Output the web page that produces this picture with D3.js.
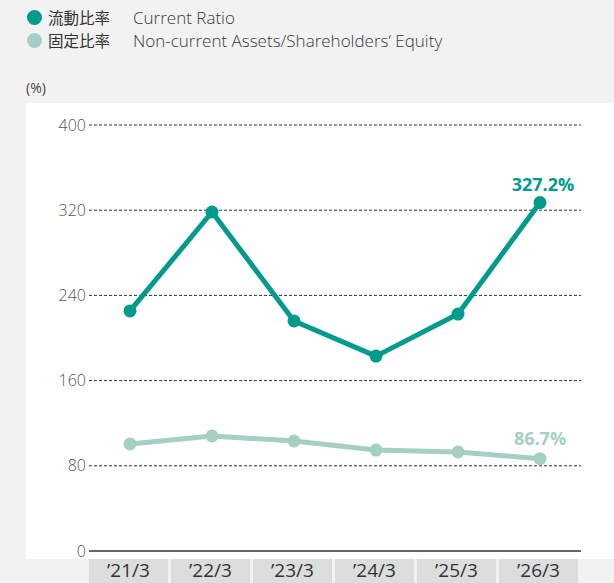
<!DOCTYPE html>
<html><head><meta charset="utf-8">
<script src="https://cdn.jsdelivr.net/npm/d3@7"></script>
<style>
html,body{margin:0;padding:0;background:#f1f2f1;}
svg{display:block;font-family:"Open Sans","Noto Sans CJK JP",sans-serif;}
</style></head>
<body>
<svg id="chart" width="614" height="583"></svg>
<script>
const categories = ["’21/3","’22/3","’23/3","’24/3","’25/3","’26/3"];
const currentRatio = [225.4, 318.3, 216.0, 183.0, 222.5, 327.2];
const fixedRatio = [100.5, 108.0, 103.3, 94.8, 93.0, 86.7];
const yTicks = [0, 80, 160, 240, 320, 400];
const seriesNames = [
  {jp:"流動比率", en:"Current Ratio"},
  {jp:"固定比率", en:"Non-current Assets/Shareholders’ Equity"}
];
const colors = ["#009b8b", "#a5cfc5"];

const svg = d3.select("#chart");
svg.append("rect").attr("x",0).attr("y",0).attr("width",614).attr("height",583).attr("fill","#f1f2f1");
svg.append("rect").attr("x",26).attr("y",103).attr("width",588).attr("height",456).attr("fill","#ffffff");

const x = d3.scaleBand().domain(categories).range([89,581]).paddingInner(0);
const y = d3.scaleLinear().domain([0,400]).range([551,125]);

// gridlines
svg.append("g").selectAll("line").data(yTicks.filter(d=>d>0)).join("line")
  .attr("x1",89).attr("x2",581).attr("y1",d=>y(d)).attr("y2",d=>y(d))
  .attr("stroke","#333").attr("stroke-width",1).attr("stroke-dasharray","3,2");

// y axis
const yAxis = d3.axisLeft(y).tickValues(yTicks).tickSize(0).tickPadding(3);
const gy = svg.append("g").attr("transform","translate(89,0)").call(yAxis);
gy.select(".domain").remove();
gy.selectAll("text").attr("font-size",16).attr("fill","#555").attr("font-weight",300)
  .style("font-family","'Open Sans',sans-serif");

// baseline
svg.append("line").attr("x1",89).attr("x2",581).attr("y1",y(0)).attr("y2",y(0))
  .attr("stroke","#333").attr("stroke-width",1.5);

// category boxes
const xg = svg.append("g");
xg.selectAll("rect").data(categories).join("rect")
  .attr("x",d=>x(d)).attr("y",559).attr("width",x.bandwidth()-3).attr("height",24)
  .attr("fill","#dcdddd");
const xAxis = d3.axisBottom(x).tickSize(0).tickPadding(0);
const gx = svg.append("g").attr("transform","translate(-1.5,577)").call(xAxis);
gx.select(".domain").remove();
gx.selectAll("text").attr("font-size",19).attr("fill","#333").attr("dy","0")
  .style("font-family","'Open Sans',sans-serif");

// lines
const cx = d => x(d) + x.bandwidth()/2;
[fixedRatio, currentRatio].forEach((vals,k)=>{
  const col = k===0 ? colors[1] : colors[0];
  const data = categories.map((c,i)=>({c, v: vals[i]}));
  svg.append("path").datum(data)
    .attr("d", d3.line().x(d=>cx(d.c)).y(d=>y(d.v)))
    .attr("fill","none").attr("stroke",col).attr("stroke-width",5).attr("stroke-linejoin","round");
  svg.append("g").selectAll("circle").data(data).join("circle")
    .attr("cx",d=>cx(d.c)).attr("cy",d=>y(d.v)).attr("r",6.5).attr("fill",col);
});

// end labels
const last = categories.length-1;
svg.append("text").attr("x",cx(categories[last])+3).attr("y",y(currentRatio[last])-12)
  .attr("text-anchor","middle").attr("font-size",18).attr("font-weight",700).attr("fill",colors[0])
  .text(currentRatio[last].toFixed(1)+"%");
svg.append("text").attr("x",cx(categories[last])).attr("y",y(fixedRatio[last])-14)
  .attr("text-anchor","middle").attr("font-size",18).attr("font-weight",700).attr("fill",colors[1])
  .text(fixedRatio[last].toFixed(1)+"%");

// legend
seriesNames.forEach((s,i)=>{
  const yy = 17.5 + i*23;
  svg.append("circle").attr("cx",34.5).attr("cy",yy).attr("r",7.5).attr("fill",colors[i]);
  svg.append("text").attr("x",48).attr("y",yy+6).attr("font-size",15.5).attr("fill","#333")
    .style("font-family","'Noto Sans CJK JP',sans-serif").text(s.jp);
  svg.append("text").attr("x",133).attr("y",yy+6).attr("font-size",17).attr("fill","#3a3a3a")
    .attr("font-weight",300).text(s.en);
});

// unit
svg.append("text").attr("x",26).attr("y",93).attr("font-size",14).attr("fill","#444").text("(%)");
</script>
</body></html>
